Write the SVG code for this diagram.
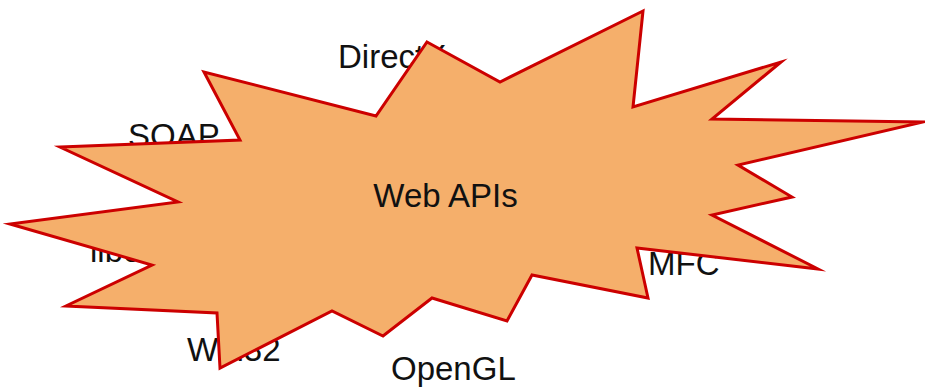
<svg xmlns="http://www.w3.org/2000/svg" width="925" height="387" viewBox="0 0 925 387">
  <style>
    .label { font-family: "Liberation Sans", Arial, sans-serif; font-size: 33px; fill: #111111; }
    .burst { fill: #F5AF6B; stroke: #CC0000; stroke-width: 3; stroke-linejoin: miter; stroke-miterlimit: 20; }
  </style>
  <rect width="925" height="387" fill="#ffffff"/>

  <!-- surrounding API names, partly hidden behind the burst -->
  <g id="api-labels">
    <text id="directx" class="label" x="338" y="68">DirectX</text>
    <text id="soap" class="label" x="128" y="147">SOAP</text>
    <text id="libc" class="label" x="90" y="262">libc</text>
    <text id="win32" class="label" x="187" y="361">Win32</text>
    <text id="opengl" class="label" x="391" y="380">OpenGL</text>
    <text id="mfc" class="label" x="648" y="275">MFC</text>
  </g>

  <!-- central starburst -->
  <g id="web-apis">
    <polygon class="burst" points="427,42 500,82 643,11 633,107 781,62 712,119 923,122 738,165 792,197 712,215 818,269 637,248 648,298 532,275 507,321 432,298 383,336 332,311 220,368 217,313 66,306 152,265 10,224 178,202 60,147 240,140 204,72 376,116"/>
    <text class="label" x="445.5" y="207" text-anchor="middle">Web APIs</text>
  </g>

  <g id="connectors"></g>
</svg>
